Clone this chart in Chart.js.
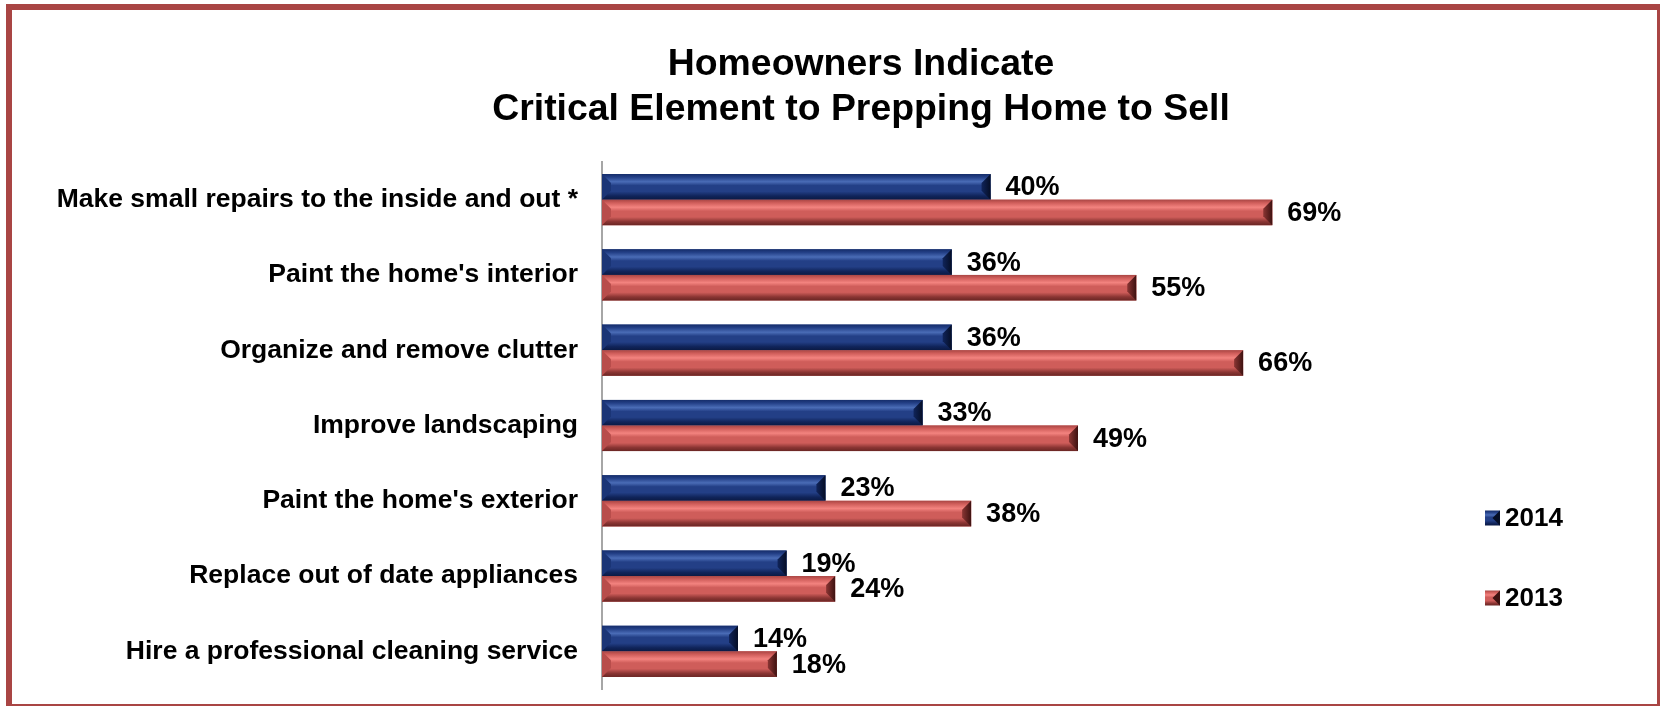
<!DOCTYPE html>
<html lang="en">
<head>
  <meta charset="UTF-8">
  <title>Homeowners Indicate Critical Element to Prepping Home to Sell</title>
  <style>
    * { margin: 0; padding: 0; box-sizing: border-box; }
    body { width: 1660px; height: 706px; overflow: hidden; background: #fff; position: relative; }
    /* the canvas runs a bit past the right edge, like the cut-off original frame */
    #chart { position: absolute; left: 0; top: 0; }
    .frame {
      position: absolute; left: 6px; top: 4px; width: 1657px; height: 706px;
      border: 6px solid #a94544; pointer-events: none;
    }
  </style>
  <script src="https://cdn.jsdelivr.net/npm/chart.js"></script>
</head>
<body>
  <canvas id="chart" width="1722" height="706"></canvas>
  <div class="frame"></div>

  <script>
    const categories = [
      'Make small repairs to the inside and out *',
      "Paint the home's interior",
      'Organize and remove clutter',
      'Improve landscaping',
      "Paint the home's exterior",
      'Replace out of date appliances',
      'Hire a professional cleaning service'
    ];
    const seriesNames = ['2014', '2013'];
    const values2014 = [40, 36, 36, 33, 23, 19, 14];
    const values2013 = [69, 55, 66, 49, 38, 24, 18];

    const FONT = '"Liberation Sans", Arial, sans-serif';

    // bevel colours for each series
    const bevel = [
      { main: '#233f86', top: '#152d6a', light: '#4a6cb6', dark: '#10245a', edge: '#0b1a44', left: '#1b3576', right: '#050e26' },
      { main: '#cf5d5a', top: '#a94644', light: '#f3837f', dark: '#8a3533', edge: '#6a2624', left: '#b84d4b', right: '#3e1211' }
    ];

    function bevelFill(ctx, st, top, h) {
      const g = ctx.createLinearGradient(0, top, 0, top + h);
      g.addColorStop(0, st.top);
      g.addColorStop(0.12, st.main);
      g.addColorStop(0.3, st.light);
      g.addColorStop(0.45, st.main);
      g.addColorStop(0.68, st.main);
      g.addColorStop(0.86, st.dark);
      g.addColorStop(1, st.edge);
      return g;
    }

    // paints the beveled look over each bar using the bar element geometry
    const bevelPlugin = {
      id: 'bevel',
      afterDatasetsDraw(chart) {
        const ctx = chart.ctx;
        chart.data.datasets.forEach((ds, di) => {
          const st = bevel[di];
          chart.getDatasetMeta(di).data.forEach(bar => {
            const top = bar.y - bar.height / 2;
            const h = bar.height;
            const l = bar.base, r = bar.x;
            const b = Math.min(9, h / 2 - 1);
            ctx.save();
            ctx.fillStyle = bevelFill(ctx, st, top, h);
            ctx.fillRect(l, top, r - l, h);
            // left facet
            ctx.fillStyle = st.left;
            ctx.beginPath();
            ctx.moveTo(l, top); ctx.lineTo(l + b, top + b); ctx.lineTo(l + b, top + h - b); ctx.lineTo(l, top + h);
            ctx.closePath(); ctx.fill();
            // right facet
            const g = ctx.createLinearGradient(r - b, 0, r, 0);
            g.addColorStop(0, st.dark);
            g.addColorStop(1, st.right);
            ctx.fillStyle = g;
            ctx.beginPath();
            ctx.moveTo(r, top); ctx.lineTo(r - b, top + b); ctx.lineTo(r - b, top + h - b); ctx.lineTo(r, top + h);
            ctx.closePath(); ctx.fill();
            ctx.restore();
          });
        });
      }
    };

    // value labels at the end of the bars
    const valueLabels = {
      id: 'valueLabels',
      afterDatasetsDraw(chart) {
        const ctx = chart.ctx;
        ctx.save();
        ctx.font = 'bold 27px ' + FONT;
        ctx.fillStyle = '#000';
        ctx.textAlign = 'left';
        ctx.textBaseline = 'middle';
        chart.data.datasets.forEach((ds, di) => {
          chart.getDatasetMeta(di).data.forEach((bar, i) => {
            ctx.fillText(ds.data[i] + '%', bar.x + 15, bar.y + 1);
          });
        });
        ctx.restore();
      }
    };

    // legend on the lower right, drawn from the dataset labels
    const sideLegend = {
      id: 'sideLegend',
      afterDraw(chart, args, opts) {
        const ctx = chart.ctx;
        ctx.save();
        ctx.font = 'bold 26px ' + FONT;
        ctx.textBaseline = 'middle';
        chart.data.datasets.forEach((ds, di) => {
          const y = opts.y[di];
          const st = bevel[di];
          const s = 15;
          ctx.fillStyle = bevelFill(ctx, st, y - s / 2, s);
          ctx.fillRect(opts.x, y - s / 2, s, s);
          ctx.fillStyle = st.right;
          ctx.beginPath();
          ctx.moveTo(opts.x + s, y - s / 2); ctx.lineTo(opts.x + s / 2, y); ctx.lineTo(opts.x + s, y + s / 2);
          ctx.closePath(); ctx.fill();
          ctx.fillStyle = '#000';
          ctx.fillText(ds.label, opts.x + 20, y + 1);
        });
        ctx.restore();
      }
    };

    new Chart(document.getElementById('chart').getContext('2d'), {
      type: 'bar',
      data: {
        labels: categories,
        datasets: [
          { label: seriesNames[0], data: values2014, backgroundColor: bevel[0].main },
          { label: seriesNames[1], data: values2013, backgroundColor: bevel[1].main }
        ]
      },
      options: {
        indexAxis: 'y',
        responsive: false,
        animation: false,
        devicePixelRatio: 1,
        layout: { padding: { left: 0, right: 0, top: 0, bottom: 17 } },
        datasets: { bar: { barPercentage: 1, categoryPercentage: 0.68 } },
        scales: {
          x: { display: false, min: 0, max: 115.3 },
          y: {
            z: 1,
            grid: { display: false, drawTicks: false },
            border: { display: true, color: '#a6a6a6', width: 2 },
            ticks: {
              padding: 24,
              color: '#000',
              font: { family: FONT, size: 26.5, weight: 'bold' }
            },
            afterFit(scale) {
              scale.width = 602;
              scale.paddingTop = 0;
              scale.paddingBottom = 0;
            }
          }
        },
        plugins: {
          legend: { display: false },
          tooltip: { enabled: false },
          title: {
            display: true,
            text: ['Homeowners Indicate', 'Critical Element to Prepping Home to Sell'],
            color: '#000',
            font: { family: FONT, size: 37.4, weight: 'bold', lineHeight: 1.203 },
            padding: { top: 42.5, bottom: 29.5 }
          },
          sideLegend: { x: 1485, y: [518, 598] }
        }
      },
      plugins: [bevelPlugin, valueLabels, sideLegend]
    });
  </script>
</body>
</html>
